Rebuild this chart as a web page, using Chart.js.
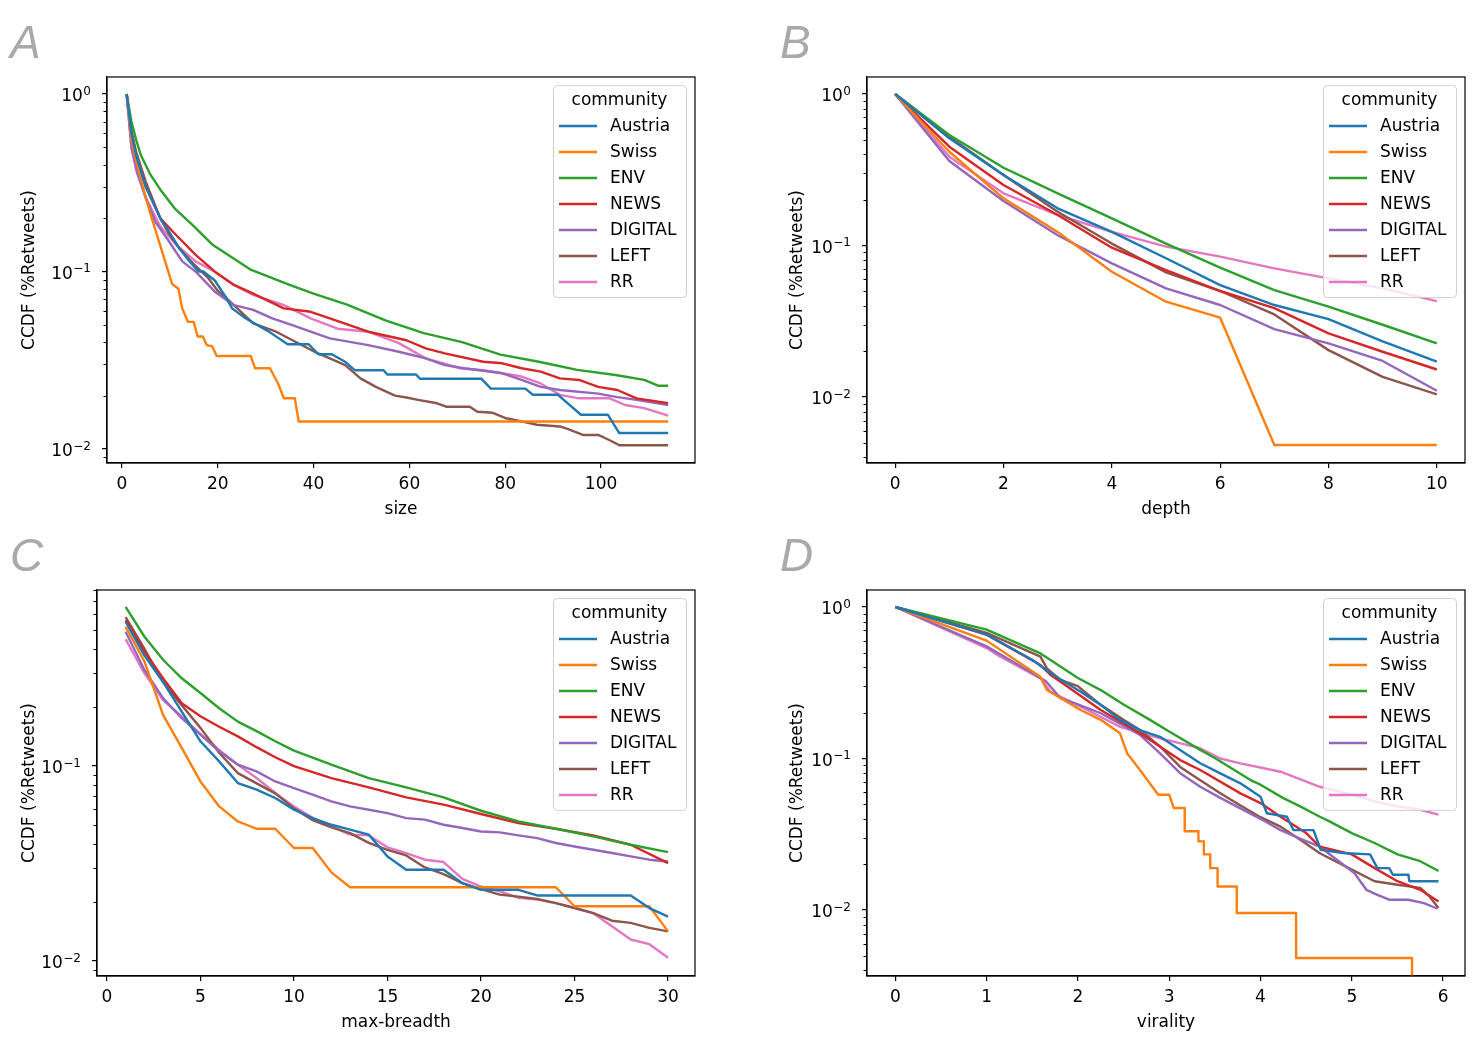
<!DOCTYPE html>
<html>
<head>
<meta charset="utf-8">
<script src="https://cdn.jsdelivr.net/npm/chart.js@4.4.1/dist/chart.umd.min.js"></script>
<style>
body { margin: 0; background: #fff; }
#wrap { position: relative; width: 1484px; height: 1040px; overflow: hidden; }
canvas { position: absolute; }
.tag { position: absolute; font: italic 46px 'Liberation Sans', Arial, sans-serif; color: #a9a9a9; line-height: 1; }
</style>
</head>
<body>
<div id="wrap">
<canvas id="chartA" width="720" height="530" style="left:0;top:0"></canvas>
<canvas id="chartB" width="742" height="530" style="left:742px;top:0"></canvas>
<canvas id="chartC" width="720" height="527" style="left:0;top:513px"></canvas>
<canvas id="chartD" width="742" height="527" style="left:742px;top:513px"></canvas>
<div class="tag" style="left:10px;top:19px">A</div>
<div class="tag" style="left:780px;top:19px">B</div>
<div class="tag" style="left:10px;top:532px">C</div>
<div class="tag" style="left:780px;top:532px">D</div>
</div>
<script>
// communities and colours (tab10)
const communities = ['Austria', 'Swiss', 'ENV', 'NEWS', 'DIGITAL', 'LEFT', 'RR'];
const colors = ['#1f77b4', '#ff7f0e', '#2ca02c', '#d62728', '#9467bd', '#8c564b', '#e377c2'];
const legendTitle = 'community';
const yTitle = 'CCDF (%Retweets)';

// tick labels
const sizeTicks = [0, 20, 40, 60, 80, 100];
const depthTicks = [0, 2, 4, 6, 8, 10];
const breadthTicks = [0, 5, 10, 15, 20, 25, 30];
const viralityTicks = [0, 1, 2, 3, 4, 5, 6];
const logTicks = [1, 0.1, 0.01];
const logTickBase = '10';
const logTickExp = ['0', '−1', '−2'];

// A: size  [x, ccdf]
const sizeAustria = [[1,1],[2,0.6],[3,0.45],[5,0.3],[8,0.2],[10,0.165],[12,0.135],[14,0.115],[16,0.1],[17,0.1],[19.4,0.089],[21.8,0.071],[23,0.062],[25.8,0.0545],[30.6,0.046],[34.6,0.0389],[39,0.0389],[41,0.0342],[43.8,0.0342],[46.6,0.031],[48.6,0.0278],[54.6,0.0278],[55.4,0.0263],[61.4,0.0263],[62.2,0.0249],[75,0.0249],[77,0.0219],[84.2,0.0219],[85.8,0.0202],[91,0.0202],[95.8,0.0156],[101.4,0.0156],[103.8,0.0123],[114,0.0123]];
const sizeSwiss = [[1,1],[2,0.55],[3,0.42],[4,0.33],[5,0.26],[6,0.21],[10.5,0.085],[11.8,0.08],[12.6,0.062],[13.8,0.052],[15,0.052],[15.8,0.043],[16.9,0.043],[17.7,0.0385],[18.8,0.038],[19.8,0.0334],[26.9,0.0334],[27.8,0.0285],[30.9,0.0285],[32.6,0.0234],[33.8,0.0193],[36.1,0.0193],[36.9,0.0143],[114,0.0143]];
const sizeEnv = [[1,1],[2,0.7],[3,0.55],[4,0.45],[6,0.35],[8,0.29],[11,0.227],[15,0.18],[19,0.141],[23,0.12],[27,0.102],[35,0.084],[40,0.075],[47,0.065],[55,0.053],[63,0.045],[71,0.04],[79,0.034],[87,0.031],[95,0.0279],[103,0.0261],[109,0.0245],[112,0.0227],[114,0.0227]];
const sizeNews = [[1,1],[2,0.6],[3,0.44],[5,0.3],[8,0.2],[10.6,0.168],[15.4,0.124],[19.4,0.0998],[23.4,0.084],[27.4,0.075],[33.8,0.062],[39.4,0.0593],[43.4,0.0545],[51.4,0.0458],[59.4,0.041],[63.4,0.0369],[67.4,0.0346],[75.4,0.031],[79.4,0.0304],[83.4,0.0285],[87.4,0.0273],[91.4,0.025],[95.4,0.0245],[99.4,0.0224],[103.4,0.0215],[107.4,0.0193],[114,0.0181]];
const sizeDigital = [[1,1],[2,0.5],[3.4,0.35],[5,0.26],[7,0.19],[9.4,0.154],[12.6,0.114],[15.4,0.0998],[19.4,0.077],[23.4,0.0646],[27.4,0.0608],[31.4,0.0545],[35.4,0.05],[43.4,0.042],[51.4,0.0385],[57.8,0.0353],[63.4,0.0324],[67.4,0.0297],[71.4,0.0285],[79.4,0.0267],[83.4,0.0245],[87.4,0.0224],[91.4,0.0215],[99.4,0.0205],[103.4,0.0196],[107.4,0.0189],[114,0.0177]];
const sizeLeft = [[1,1],[2,0.62],[3,0.47],[5,0.32],[8,0.2],[10,0.16],[12,0.135],[15,0.11],[18,0.092],[20,0.078],[22.6,0.0676],[27.4,0.051],[32.2,0.0458],[36.2,0.0402],[40.2,0.0353],[43.4,0.0324],[46.6,0.0297],[49.8,0.025],[53,0.0224],[57,0.02],[59.4,0.0195],[61.8,0.0189],[65.8,0.0181],[67.8,0.0173],[72.6,0.0173],[74.2,0.0162],[77.4,0.016],[80.2,0.0149],[83.4,0.0143],[86.6,0.0137],[91.4,0.0134],[93,0.013],[96.2,0.012],[99.4,0.012],[101.8,0.0112],[103.8,0.0105],[114,0.0105]];
const sizeRr = [[1,1],[2,0.5],[3,0.37],[5,0.26],[8,0.18],[11.4,0.141],[15.4,0.114],[19.4,0.0998],[23.4,0.084],[27.4,0.0739],[33.8,0.0646],[39.4,0.0545],[45,0.0476],[51.4,0.0458],[57.8,0.0395],[63.4,0.0324],[70.6,0.0285],[75.4,0.0278],[79.4,0.0267],[83.4,0.0256],[87.4,0.0234],[91.4,0.0202],[95.4,0.0193],[101.8,0.0193],[105,0.0177],[109,0.017],[114,0.0154]];

// B: depth 0..10
const depthX = [0, 1, 2, 3, 4, 5, 6, 7, 8, 9, 10];
const depthAustria = [1, 0.51, 0.292, 0.176, 0.123, 0.0824, 0.0548, 0.0405, 0.0327, 0.0233, 0.0171];
const depthSwiss = [1, 0.416, 0.205, 0.123, 0.0672, 0.0426, 0.0334, 0.00482, 0.00482, 0.00482, 0.00482];
const depthEnv = [1, 0.536, 0.326, 0.221, 0.151, 0.103, 0.0714, 0.0508, 0.0395, 0.03, 0.0226];
const depthNews = [1, 0.449, 0.251, 0.159, 0.0968, 0.0689, 0.0501, 0.0386, 0.0263, 0.0199, 0.0152];
const depthDigital = [1, 0.361, 0.197, 0.117, 0.0762, 0.0521, 0.0405, 0.0281, 0.0226, 0.0173, 0.011];
const depthLeft = [1, 0.523, 0.292, 0.167, 0.103, 0.0665, 0.0501, 0.0351, 0.0204, 0.0136, 0.0104];
const depthRr = [1, 0.386, 0.221, 0.159, 0.123, 0.0983, 0.0844, 0.0707, 0.0607, 0.0521, 0.043];

// C: max-breadth  [x, ccdf]
const breadthAustria = [[1,0.55],[2,0.37],[3,0.27],[4,0.19],[5,0.134],[6,0.1057],[7,0.0818],[8,0.0757],[9,0.0686],[10,0.0597],[11,0.0541],[12,0.05],[13,0.0472],[14,0.0445],[15,0.0344],[16,0.0294],[18,0.0294],[19,0.0251],[20,0.0232],[22,0.0232],[23,0.0217],[28,0.0217],[29,0.0187],[30,0.0169]];
const breadthSwiss = [[1,0.518],[2,0.345],[3,0.183],[4,0.124],[5,0.0834],[6,0.0621],[7,0.052],[8,0.0477],[9,0.0477],[10,0.038],[11,0.038],[12,0.0285],[13,0.0239],[24,0.0239],[25,0.0191],[29,0.0191],[30,0.0142]];
const breadthEnv = [[1,0.656],[2,0.462],[3,0.351],[4,0.282],[5,0.237],[6,0.198],[7,0.169],[8,0.151],[9,0.134],[10,0.12],[12,0.1016],[14,0.0868],[16,0.0778],[18,0.0691],[20,0.059],[22,0.052],[24,0.0477],[26,0.0436],[28,0.0395],[30,0.0362]];
const breadthNews = [[1,0.56],[2,0.387],[3,0.282],[4,0.21],[5,0.18],[6,0.159],[7,0.142],[8,0.125],[9,0.111],[10,0.1],[12,0.0868],[14,0.0778],[16,0.0691],[18,0.0634],[20,0.0568],[22,0.051],[24,0.0477],[26,0.0441],[28,0.0395],[30,0.0318]];
const breadthDigital = [[1,0.489],[2,0.312],[3,0.223],[4,0.176],[5,0.145],[6,0.119],[7,0.1016],[8,0.0939],[9,0.0834],[10,0.0771],[11,0.0713],[12,0.0659],[13,0.0621],[14,0.0597],[15,0.0574],[16,0.0541],[17,0.0531],[18,0.05],[19,0.0481],[20,0.0462],[21,0.0457],[22,0.0441],[23,0.0427],[24,0.0403],[25,0.0387],[26,0.0372],[27,0.0358],[28,0.0344],[29,0.0331],[30,0.0324]];
const breadthLeft = [[1,0.58],[2,0.4],[3,0.27],[4,0.205],[5,0.157],[6,0.117],[7,0.092],[8,0.0815],[9,0.0724],[10,0.0607],[11,0.0528],[12,0.0485],[13,0.0453],[14,0.0404],[15,0.0372],[16,0.0348],[17,0.0302],[18,0.0279],[19,0.0251],[20,0.0234],[21,0.0219],[22,0.0214],[23,0.0208],[24,0.0198],[25,0.0187],[26,0.0176],[27,0.0161],[28,0.0157],[29,0.0148],[30,0.0142]];
const breadthRr = [[1,0.447],[2,0.3],[3,0.218],[4,0.18],[5,0.146],[6,0.121],[7,0.1016],[8,0.0868],[9,0.0728],[10,0.0621],[11,0.0543],[12,0.0491],[13,0.0445],[14,0.0441],[15,0.0383],[16,0.0358],[17,0.0331],[18,0.0322],[19,0.0264],[20,0.0241],[21,0.0228],[22,0.0211],[23,0.0207],[24,0.0198],[25,0.0187],[26,0.0176],[27,0.0151],[28,0.0129],[29,0.0122],[30,0.0104]];

// D: virality  [x, ccdf]
const viralityAustria = [[0,1],[1,0.657],[1.5,0.449],[1.7,0.365],[2.03,0.276],[2.25,0.226],[2.46,0.18],[2.68,0.154],[2.9,0.139],[3.12,0.114],[3.34,0.093],[3.56,0.0798],[3.78,0.0686],[4,0.056],[4.07,0.0435],[4.29,0.0413],[4.36,0.0337],[4.58,0.0337],[4.66,0.025],[4.9,0.0238],[5.2,0.0233],[5.28,0.0189],[5.41,0.0189],[5.45,0.0171],[5.62,0.0171],[5.63,0.0155],[5.95,0.0155]];
const viralitySwiss = [[0,1],[1,0.6],[1.59,0.347],[1.66,0.283],[2.03,0.209],[2.25,0.18],[2.46,0.147],[2.54,0.108],[2.68,0.084],[2.88,0.0577],[3,0.0577],[3.05,0.0471],[3.17,0.0471],[3.17,0.0331],[3.32,0.0331],[3.32,0.0284],[3.38,0.0284],[3.38,0.0233],[3.45,0.0233],[3.45,0.0189],[3.53,0.0189],[3.53,0.0143],[3.74,0.0143],[3.74,0.00955],[4.39,0.00955],[4.39,0.00482],[5.66,0.00482],[5.66,0.001]];
const viralityEnv = [[0,1],[1,0.709],[1.59,0.494],[1.7,0.447],[2,0.34],[2.25,0.283],[2.5,0.227],[2.79,0.18],[3,0.151],[3.34,0.114],[3.5,0.1007],[3.89,0.0721],[4,0.0672],[4.25,0.0548],[4.44,0.0481],[4.65,0.0413],[4.75,0.0386],[5,0.0322],[5.25,0.0277],[5.5,0.0233],[5.75,0.021],[5.95,0.0181]];
const viralityNews = [[0,1],[1,0.657],[1.59,0.414],[1.7,0.356],[1.81,0.321],[2.25,0.209],[2.68,0.147],[3.12,0.0977],[3.34,0.084],[3.78,0.0589],[4,0.0508],[4.22,0.0413],[4.5,0.0322],[4.65,0.0262],[5,0.0233],[5.25,0.0189],[5.5,0.0155],[5.75,0.0136],[5.95,0.0114]];
const viralityDigital = [[0,1],[1,0.55],[1.5,0.367],[1.65,0.323],[1.81,0.25],[2,0.228],[2.25,0.199],[2.5,0.165],[2.68,0.143],[2.9,0.108],[3.12,0.08],[3.34,0.0651],[3.56,0.055],[3.78,0.0469],[4,0.04],[4.22,0.0337],[4.44,0.0295],[4.65,0.0262],[4.75,0.0235],[5.03,0.0175],[5.16,0.0136],[5.28,0.0126],[5.41,0.0117],[5.62,0.0117],[5.79,0.0111],[5.94,0.0102]];
const viralityLeft = [[0,1],[1,0.674],[1.59,0.47],[1.66,0.394],[1.81,0.33],[2,0.3],[2.25,0.226],[2.5,0.18],[2.68,0.154],[2.9,0.12],[3.12,0.088],[3.34,0.072],[3.56,0.059],[3.78,0.049],[4,0.041],[4.22,0.0355],[4.44,0.029],[4.65,0.0237],[5,0.0185],[5.25,0.0155],[5.5,0.0147],[5.75,0.014],[5.85,0.0123],[5.95,0.0103]];
const viralityRr = [[0,1],[1,0.536],[1.15,0.47],[1.59,0.338],[1.7,0.276],[2.03,0.22],[2.46,0.162],[2.9,0.136],[3.34,0.117],[3.56,0.1],[3.78,0.093],[4.22,0.0818],[4.65,0.0651],[5,0.0577],[5.25,0.0521],[5.5,0.0483],[5.75,0.0459],[5.95,0.0426]];

Chart.defaults.font.family = "'DejaVu Sans', sans-serif";
Chart.defaults.font.size = 17;
Chart.defaults.color = '#000';

// box around the axes, minor log ticks and the 10^n tick labels
const frame = {
  id: 'frame',
  afterDatasetsDraw(chart) {
    const {ctx, chartArea: a} = chart;
    const y = chart.scales.y;
    ctx.save();
    ctx.strokeStyle = '#000';
    ctx.lineWidth = 1.2;
    ctx.strokeRect(a.left, a.top, a.right - a.left, a.bottom - a.top);
    ctx.beginPath();
    for (let k = -4; k <= 1; k++) {
      for (let m = 2; m <= 9; m++) {
        const v = m * Math.pow(10, k);
        if (v < y.min || v > y.max) continue;
        const py = Math.round(y.getPixelForValue(v)) + 0.5;
        ctx.moveTo(a.left, py);
        ctx.lineTo(a.left - 3.5, py);
      }
    }
    ctx.lineWidth = 1;
    ctx.stroke();

    ctx.fillStyle = '#000';
    ctx.textAlign = 'right';
    ctx.textBaseline = 'alphabetic';
    logTicks.forEach((v, i) => {
      if (v < y.min || v > y.max) return;
      const py = y.getPixelForValue(v);
      const right = a.left - 16;
      ctx.font = "12px 'DejaVu Sans'";
      const ew = ctx.measureText(logTickExp[i]).width;
      ctx.fillText(logTickExp[i], right, py + 0.5);
      ctx.font = "17px 'DejaVu Sans'";
      ctx.fillText(logTickBase, right - ew - 0.5, py + 7);
    });
    ctx.restore();
  }
};

// matplotlib style legend in the upper right corner
const boxLegend = {
  id: 'boxLegend',
  afterDatasetsDraw(chart) {
    const {ctx, chartArea: a} = chart;
    const w = 133, h = 212;
    const left = a.right - 9 - w, top = a.top + 8;
    ctx.save();
    ctx.beginPath();
    ctx.roundRect(left + 0.5, top + 0.5, w, h, 4);
    ctx.fillStyle = 'rgba(255,255,255,0.8)';
    ctx.fill();
    ctx.strokeStyle = '#d0d0d0';
    ctx.lineWidth = 1;
    ctx.stroke();
    ctx.font = "17px 'DejaVu Sans'";
    ctx.fillStyle = '#000';
    ctx.textBaseline = 'middle';
    ctx.textAlign = 'center';
    ctx.fillText(legendTitle, left + w / 2, top + 16);
    ctx.textAlign = 'left';
    chart.data.datasets.forEach((d, i) => {
      const yy = top + 42 + i * 26;
      ctx.strokeStyle = d.borderColor;
      ctx.lineWidth = 2.4;
      ctx.beginPath();
      ctx.moveTo(left + 6, yy - 1);
      ctx.lineTo(left + 44, yy - 1);
      ctx.stroke();
      ctx.fillText(d.label, left + 57, yy);
    });
    ctx.restore();
  }
};

function pairs(list) {
  return list.map(p => ({x: p[0], y: p[1]}));
}

function makeChart(id, series, p) {
  return new Chart(id, {
    type: 'line',
    data: {
      datasets: series.map((s, i) => ({
        label: communities[i],
        data: pairs(s),
        borderColor: colors[i],
        borderWidth: 2.4,
        borderJoinStyle: 'round',
        pointRadius: 0,
        tension: 0,
        fill: false
      }))
    },
    options: {
      responsive: false,
      animation: false,
      events: [],
      layout: {padding: p.pad},
      plugins: {legend: {display: false}, tooltip: {enabled: false}},
      scales: {
        x: {
          type: 'linear',
          min: p.xMin, max: p.xMax,
          afterBuildTicks: s => { s.ticks = p.xTicks.map(v => ({value: v})); },
          afterFit: s => { s.height = 61; },
          ticks: {padding: 6, maxRotation: 0, autoSkip: false},
          grid: {drawOnChartArea: false, drawTicks: true, tickLength: 5, color: '#000', lineWidth: 1.2},
          border: {display: true, color: '#000', width: 1.2},
          title: {display: true, text: p.xTitle, padding: {top: 4, bottom: 4}}
        },
        y: {
          type: 'logarithmic',
          min: p.yMin, max: p.yMax,
          afterBuildTicks: s => {
            s.ticks = logTicks.filter(v => v >= p.yMin && v <= p.yMax).map(v => ({value: v}));
          },
          afterFit: s => { s.width = p.yW; },
          ticks: {padding: 6, autoSkip: false, callback: () => ''},
          grid: {drawOnChartArea: false, drawTicks: true, tickLength: 5, color: '#000', lineWidth: 1.2},
          border: {display: true, color: '#000', width: 1.2},
          title: {display: true, text: yTitle, padding: {top: 4, bottom: 4}}
        }
      }
    },
    plugins: [frame, boxLegend]
  });
}

makeChart('chartA', [sizeAustria, sizeSwiss, sizeEnv, sizeNews, sizeDigital, sizeLeft, sizeRr], {
  pad: {left: 15, top: 77, right: 25, bottom: 6}, yW: 92,
  xMin: -3.1, xMax: 119.6, xTicks: sizeTicks, xTitle: 'size',
  yMin: 0.00834, yMax: 1.247
});

const depthSeries = [depthAustria, depthSwiss, depthEnv, depthNews, depthDigital, depthLeft, depthRr]
  .map(vals => vals.map((v, i) => [depthX[i], v]));
makeChart('chartB', depthSeries, {
  pad: {left: 41, top: 77, right: 19, bottom: 6}, yW: 84,
  xMin: -0.52, xMax: 10.52, xTicks: depthTicks, xTitle: 'depth',
  yMin: 0.00367, yMax: 1.295
});

makeChart('chartC', [breadthAustria, breadthSwiss, breadthEnv, breadthNews, breadthDigital, breadthLeft, breadthRr], {
  pad: {left: 15, top: 77, right: 25, bottom: 3}, yW: 82,
  xMin: -0.53, xMax: 31.44, xTicks: breadthTicks, xTitle: 'max-breadth',
  yMin: 0.00838, yMax: 0.80
});

makeChart('chartD', [viralityAustria, viralitySwiss, viralityEnv, viralityNews, viralityDigital, viralityLeft, viralityRr], {
  pad: {left: 41, top: 77, right: 19, bottom: 3}, yW: 84,
  xMin: -0.31, xMax: 6.24, xTicks: viralityTicks, xTitle: 'virality',
  yMin: 0.00367, yMax: 1.295
});
</script>
</body>
</html>
